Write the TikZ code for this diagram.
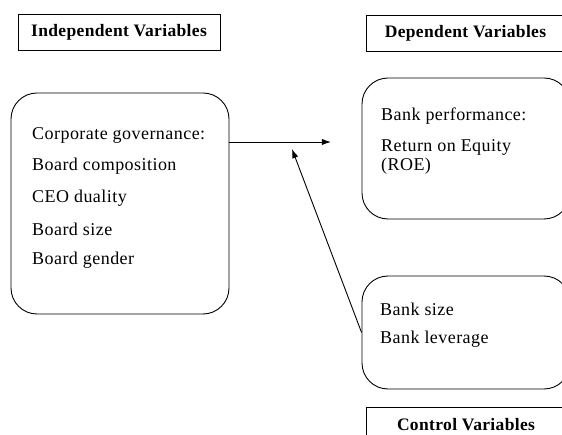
\documentclass[tikz,border=0pt]{standalone}
\usepackage{fontspec}
\setmainfont{Liberation Serif}[LetterSpace=2]
\newfontfamily\itemfont{Liberation Serif}[LetterSpace=2.5]
\usetikzlibrary{positioning,arrows.meta}
\tikzset{
>={Latex[width=2.2mm,length=3.2mm]},
head/.style={rectangle, draw=black, line width=0.9pt, minimum height=36pt,
             inner sep=0pt, font=\fontsize{17.5}{21}\selectfont\bfseries},
varbox/.style={rectangle, rounded corners=26pt, draw=black, line width=0.9pt, inner sep=0pt},
item/.style={anchor=base west, inner sep=0pt, font=\itemfont\fontsize{18}{19}\selectfont},
}

\begin{document}
\begin{tikzpicture}[x=1pt, y=-1pt]

    \clip (0,0) rectangle (562,435);
    \fill[white] (0,0) rectangle (562,435);

    \node[head, minimum width=202pt] (INDEP) at(119, 32)  {Independent Variables};
    \node[head, minimum width=199pt] (DEP) at(465.5, 33)  {Dependent Variables};
    \node[head, minimum width=200pt] (CTRL) at(466, 425)  {Control Variables};

    \node[varbox, minimum width=218pt, minimum height=221pt] (GOV) at(120, 203.5)  {};
    \node[varbox, minimum width=208pt, minimum height=141pt] (PERF) at(466, 148.5)  {};
    \node[varbox, minimum width=208pt, minimum height=113pt] (BANK) at(466, 332.5)  {};

    \node[item] (gov_0) at(32, 140)  {Corporate governance:};
    \node[item] (gov_1) at(32, 171)  {Board composition};
    \node[item] (gov_2) at(32, 203)  {CEO duality};
    \node[item] (gov_3) at(32, 236)  {Board size};
    \node[item] (gov_4) at(32, 265)  {Board gender};

    \node[item] (perf_0) at(381, 121)  {Bank performance:};
    \node[item] (perf_1) at(381, 152)  {Return on Equity};
    \node[item] (perf_2) at(381, 171)  {(ROE)};

    \node[item] (bank_0) at(380, 316)  {Bank size};
    \node[item] (bank_1) at(380, 344)  {Bank leverage};

    \coordinate (to_perf) at(331, 142);
    \coordinate (to_link) at(292, 149);

    \draw[->, line width=0.9pt] (GOV.east |- to_perf)  to (to_perf) ;
    \draw[->, line width=0.9pt] (BANK.west)  to (to_link) ;
\end{tikzpicture}
\end{document}
